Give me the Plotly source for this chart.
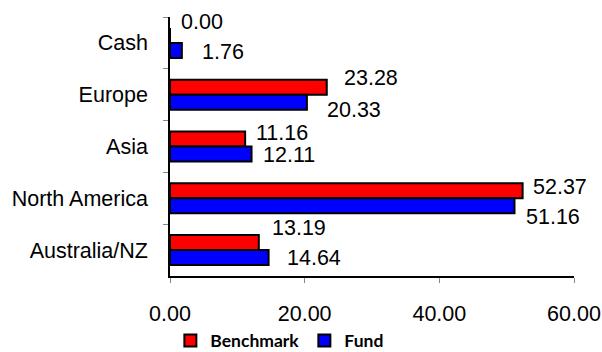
import plotly.graph_objects as go

categories = ["Cash", "Europe", "Asia", "North America", "Australia/NZ"]
benchmark = [0.00, 23.28, 11.16, 52.37, 13.19]
fund = [1.76, 20.33, 12.11, 51.16, 14.64]

# label placement offsets in pixels (xshift from bar end, yshift from category centre)
bench_xshift = [9, 15, 9, 8, 11]
bench_yshift = [21, 17, 14, 11, 22]
fund_xshift = [18, 18, 9, 10, 16]
fund_yshift = [-9, -15, -8, -19, -8]

FONT = "Liberation Sans, Arial, sans-serif"
FS = 21.5

fig = go.Figure()
fig.add_trace(go.Bar(
    y=categories, x=benchmark, name="Benchmark", orientation="h",
    marker=dict(color="#FF0000", line=dict(color="#000000", width=2)),
))
fig.add_trace(go.Bar(
    y=categories, x=fund, name="Fund", orientation="h",
    marker=dict(color="#0000FF", line=dict(color="#000000", width=2)),
))

annotations = []
for i, c in enumerate(categories):
    annotations.append(dict(
        x=benchmark[i], y=c, xref="x", yref="y", text=f"{benchmark[i]:.2f}",
        showarrow=False, xanchor="left", yanchor="middle",
        xshift=bench_xshift[i], yshift=bench_yshift[i],
        font=dict(family=FONT, size=FS, color="#000000"),
    ))
    annotations.append(dict(
        x=fund[i], y=c, xref="x", yref="y", text=f"{fund[i]:.2f}",
        showarrow=False, xanchor="left", yanchor="middle",
        xshift=fund_xshift[i], yshift=fund_yshift[i],
        font=dict(family=FONT, size=FS, color="#000000"),
    ))

fig.update_layout(
    width=602, height=352,
    margin=dict(l=170, r=28, t=17, b=76, autoexpand=False),
    paper_bgcolor="white", plot_bgcolor="white",
    barmode="group", bargap=0.42, bargroupgap=0,
    font=dict(family=FONT, size=FS, color="#000000"),
    showlegend=True,
    legend=dict(
        orientation="h", xref="container", yref="container",
        x=0.283, xanchor="left", y=0.032, yanchor="middle",
        font=dict(family="Lato, sans-serif", size=17.5, color="#000000", weight="bold"),
        itemwidth=30, bgcolor="rgba(0,0,0,0)",
    ),
    annotations=annotations,
)
fig.update_xaxes(
    range=[0, 60], tickvals=[0, 20, 40, 60], tickformat=".2f",
    showgrid=False, zeroline=False,
    showline=True, linecolor="#000000", linewidth=1.5,
    ticks="outside", ticklen=5, tickcolor="#888888", tickwidth=1,
    ticklabelstandoff=12,
)
fig.update_yaxes(
    range=[4.5, -0.5], showgrid=False, zeroline=False,
    showline=True, linecolor="#000000", linewidth=1.5,
    ticks="outside", ticklen=5, tickcolor="#888888", tickwidth=1,
    tickson="boundaries", ticklabelstandoff=16,
)

fig.write_html("out.html")
